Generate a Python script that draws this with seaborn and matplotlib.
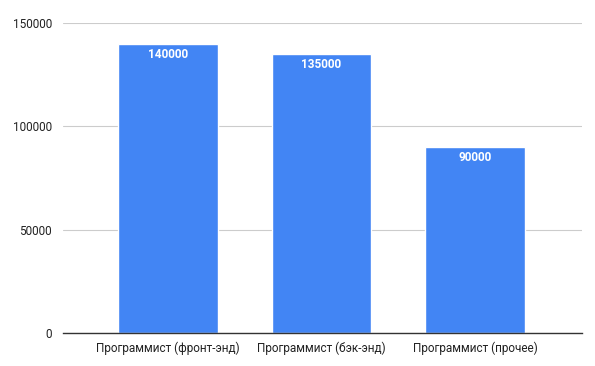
import matplotlib
matplotlib.use("Agg")
import matplotlib.pyplot as plt
import seaborn as sns
import pandas as pd

categories = ['Программист (фронт-энд)', 'Программист (бэк-энд)', 'Программист (прочее)']
salaries = [140000, 135000, 90000]
y_ticks = [0, 50000, 100000, 150000]

data = pd.DataFrame({'role': categories, 'salary': salaries})

sns.set_theme(style="white")
plt.rcParams['font.family'] = ['Roboto', 'DejaVu Sans']

fig = plt.figure(figsize=(5.95, 3.66), dpi=100)
ax = fig.add_axes([0.106, 0.090, 0.872, 0.847])

sns.barplot(x='role', y='salary', data=data, color='#4285F4', saturation=1,
            width=0.65, ax=ax, zorder=3)

# value labels inside the top of each bar
for i, val in enumerate(data['salary']):
    ax.annotate(f'{val}', xy=(i, val), xytext=(0, -7.6), textcoords='offset points',
                ha='center', va='center', color='white', fontweight='bold', fontsize=8.5)

ax.set_ylim(0, 150000)
ax.set_xlim(-0.684, 2.697)
ax.set_yticks(y_ticks)
ax.set_yticklabels([str(t) for t in y_ticks])
ax.yaxis.grid(True, color='#cccccc', linewidth=0.8, zorder=0)
ax.set_xlabel('')
ax.set_ylabel('')
ax.tick_params(axis='both', length=0, labelsize=8.5, labelcolor='#222222')
ax.tick_params(axis='y', pad=8)
ax.tick_params(axis='x', pad=6)
for side in ['top', 'right', 'left']:
    ax.spines[side].set_visible(False)
ax.spines['bottom'].set_color('#333333')
ax.spines['bottom'].set_linewidth(1)
ax.spines['bottom'].set_zorder(4)

plt.savefig("out.png", dpi=100)
